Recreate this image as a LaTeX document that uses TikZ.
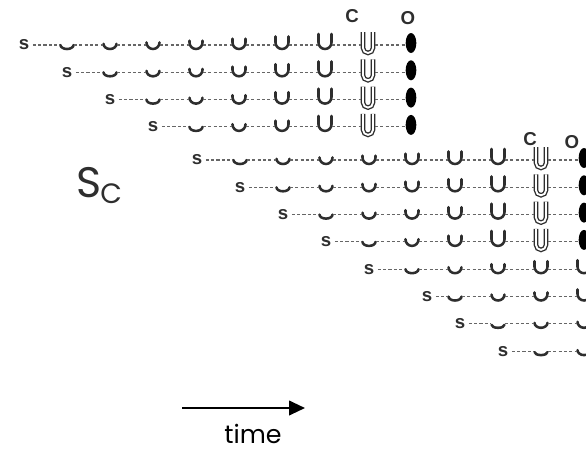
\documentclass[tikz,border=0pt]{standalone}
\usepackage{fontspec}
\setsansfont{Liberation Sans}
\newfontfamily\gothic{Poppins}
\usetikzlibrary{arrows.meta,shapes.geometric}

\definecolor{ink}{rgb}{0.18,0.18,0.18}
\definecolor{dots}{rgb}{0.4,0.4,0.4}

\tikzset{
  lbl/.style={font=\sffamily\bfseries\fontsize{14}{14}\selectfont, text=ink, inner sep=2.5pt},
  state/.style={inner sep=0pt, minimum width=10pt, minimum height=2pt},
  cupline/.style={draw=ink, line width=1.9pt, line cap=round},
  tallline/.style={draw=ink, line width=1pt, double=white, double distance=1.4pt},
  link/.style={draw=dots, line width=0.8pt, dash pattern=on 2.4pt off 1.6pt},
  openst/.style={ellipse, fill=black, inner sep=0pt, minimum width=8pt, minimum height=15pt},
}

% closed state drawn as a cup: name, x, y, depth
\newcommand{\cupstate}[4]{%
  \node[state] (#1) at (#2,#3) {};
  \pgfmathsetmacro\ry{min(#4,6.5)}
  \draw[cupline] (#2-6.5,#3+4-#4) -- (#2-6.5,#3+4-\ry) arc[start angle=180, end angle=0, x radius=6.5, y radius=\ry] -- (#2+6.5,#3+4-#4);
}
% last closed state before opening: name, x, y
\newcommand{\tallstate}[3]{%
  \node[state] (#1) at (#2,#3) {};
  \draw[tallline] (#2-5,#3-13) -- (#2-5,#3+3) arc[start angle=180, end angle=0, radius=5] -- (#2+5,#3-13);
}

\begin{document}
\begin{tikzpicture}[x=0.75pt,y=0.75pt,yscale=-1,xscale=1]
    \useasboundingbox (0,0) rectangle (586,451);

    % two staircases of complete chains
    \foreach \g/\dx/\dy in {a/0/0,b/173/115}{
      \foreach \r in {0,...,3}{
        \pgfmathsetmacro\y{45+27.3*\r+\dy}
        \pgfmathsetmacro\xs{24+43*\r+\dx}
        \pgfmathtruncatemacro\n{7-\r}
        \node[lbl] (\g\r-0) at (\xs,\y) {s};
        \foreach \j in {1,...,\n}{
          \pgfmathsetmacro\x{24+43*(\r+\j)+\dx}
          \pgfmathsetmacro\pos{(\j-1)/(\n-1)}
          \pgfmathsetmacro\dep{4+11*\pos*(0.6+0.4*\pos)}
          \pgfmathtruncatemacro\prev{\j-1}
          \cupstate{\g\r-\j}{\x}{\y}{\dep}
          \draw[link] (\g\r-\prev) -- (\g\r-\j);
        }
        \pgfmathsetmacro\xc{24+43*8+\dx}
        \pgfmathsetmacro\xo{24+43*9+\dx}
        \tallstate{\g\r-8}{\xc}{\y}
        \draw[link] (\g\r-\n) -- (\g\r-8);
        \node[openst] (\g\r-9) at (\xo,\y-2) {};
        \draw[link] (\g\r-8) -- (\g\r-8 -| \g\r-9.west);
      }
    }

    % chains running off the right edge
    \foreach \r/\xs/\c/\ds in {4/369/5/{4,6,9,12,13},5/427/6/{4,6,8,11},6/460/7/{3,5,6},7/503/8/{3,5}}{
      \pgfmathsetmacro\y{160+27.3*\r}
      \node[lbl] (b\r-0) at (\xs,\y) {s};
      \foreach \dep [count=\j] in \ds {
        \pgfmathsetmacro\x{24+43*(\c+\j-1)+173}
        \pgfmathtruncatemacro\prev{\j-1}
        \cupstate{b\r-\j}{\x}{\y}{\dep}
        \draw[link] (b\r-\prev) -- (b\r-\j);
      }
    }

    % Text Node
    \node[lbl] (ca) at (352,16) {C};
    \node[lbl] (oa) at (408,18) {O};
    \node[lbl] (cb) at (530,139) {C};
    \node[lbl] (ob) at (572,142) {O};
    % Text Node
    \node[font=\gothic\fontsize{32}{32}\selectfont, text=ink, inner sep=0pt] (sc) at (89,183) {S};
    \node[font=\gothic\fontsize{21}{21}\selectfont, text=ink, inner sep=0pt, anchor=west] (sub) at (100,194) {C};

    % time arrow
    \coordinate (t0) at (182,408);
    \coordinate (t1) at (305,408);
    \draw[line width=1.5pt, -{Triangle[length=12pt, width=11pt]}] (t0) -- (t1);
    \node[font=\gothic\fontsize{19}{19}\selectfont, anchor=base, inner sep=0pt] (time) at (253,443) {time};
\end{tikzpicture}
\end{document}
